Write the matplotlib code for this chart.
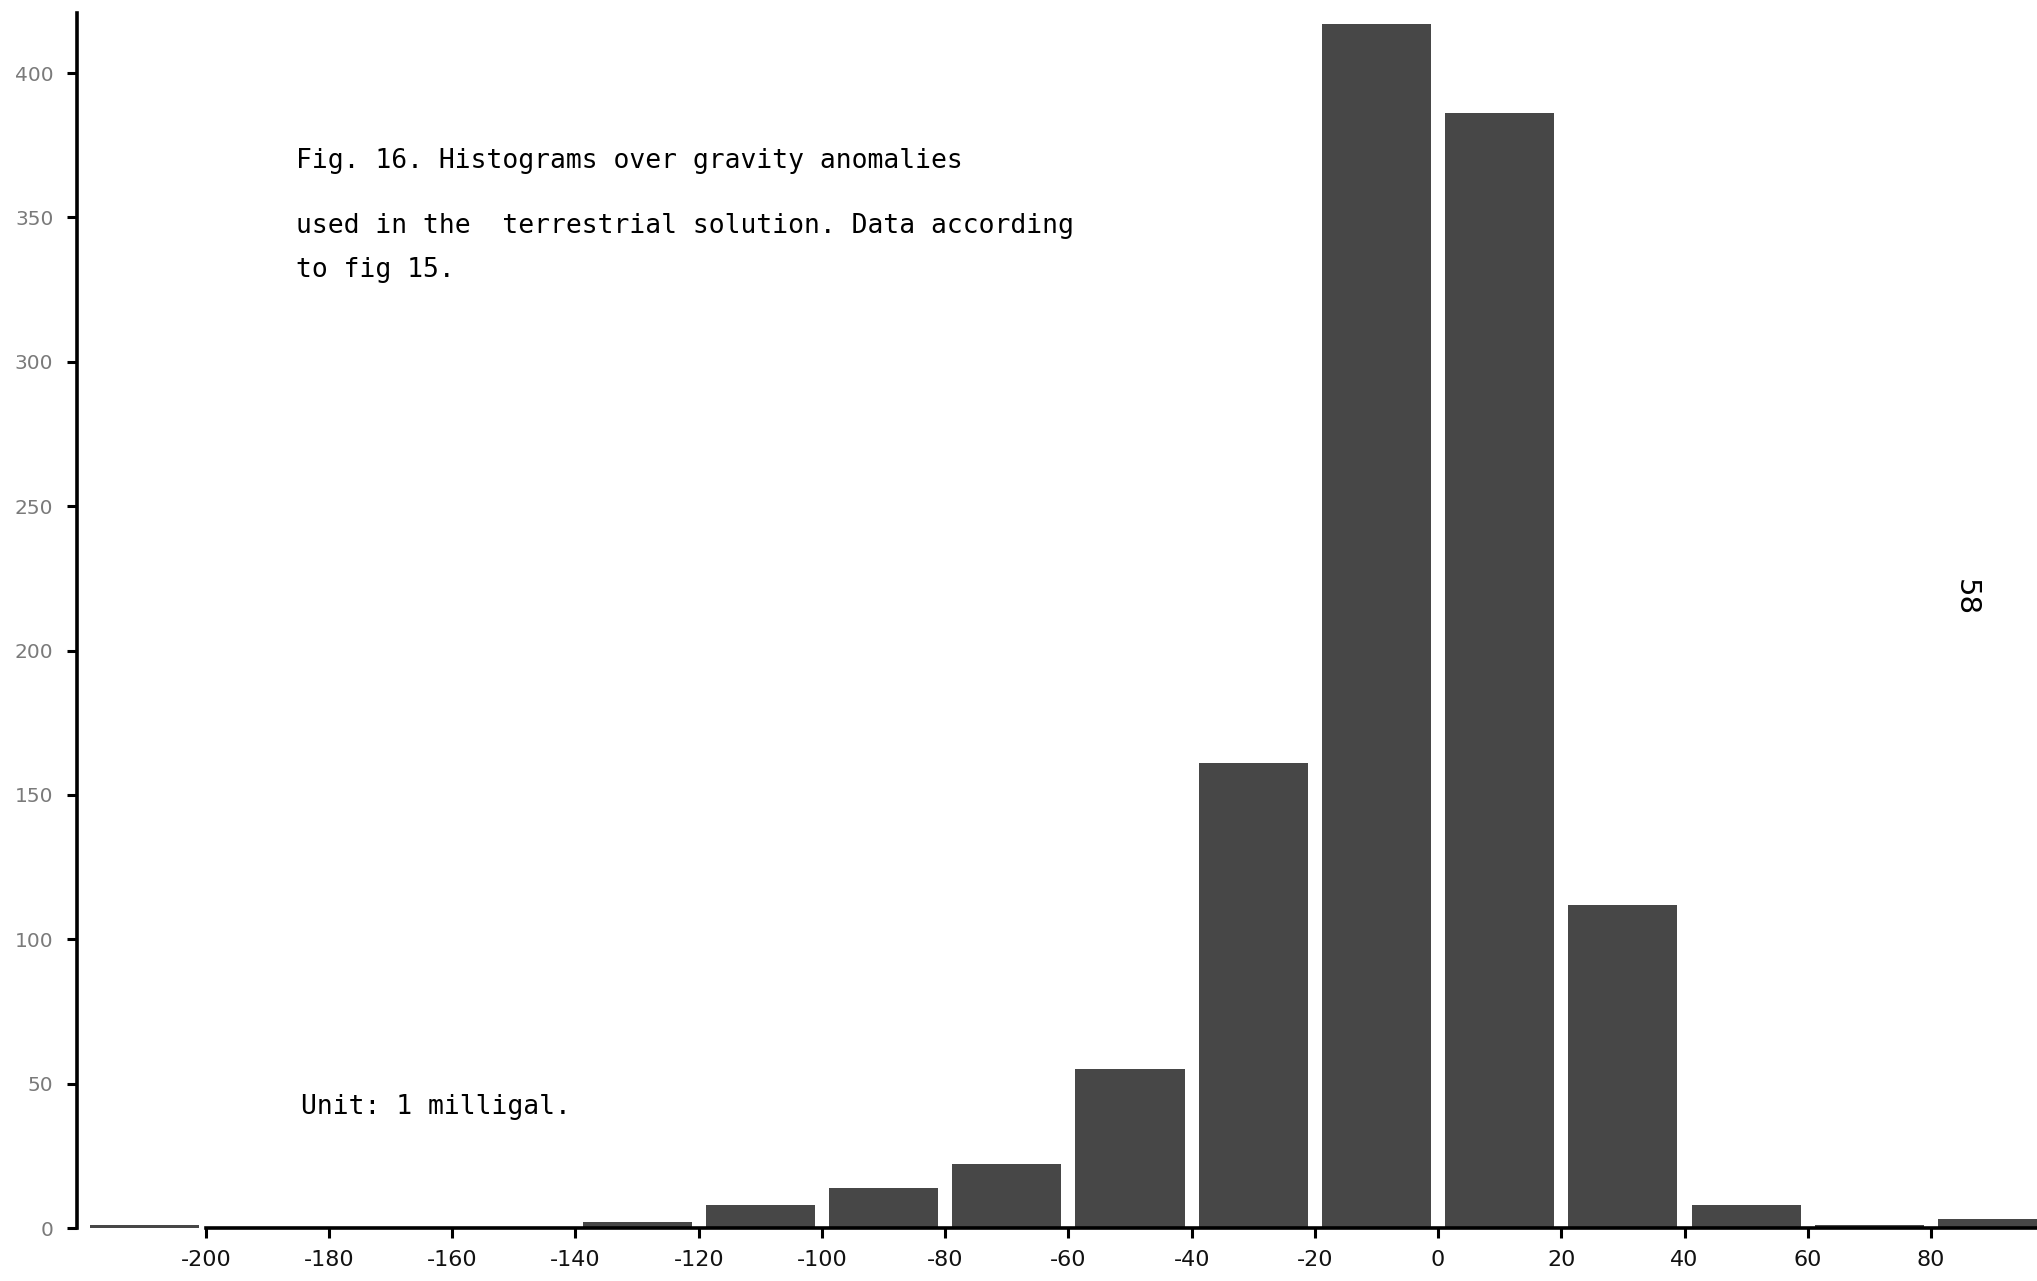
import matplotlib
matplotlib.use("Agg")
import matplotlib.pyplot as plt
import numpy as np

# ---- data ----
bin_left = [-220, -200, -180, -160, -140, -120, -100, -80, -60, -40, -20, 0, 20, 40, 60, 80]
counts   = [1, 0, 0, 0, 2, 8, 14, 22, 55, 161, 417, 386, 112, 8, 1, 3]
bin_width = 20
xtick_vals = [-200, -180, -160, -140, -120, -100, -80, -60, -40, -20, 0, 20, 40, 60, 80]
xtick_labels = ["-200", "-180", "-160", "-140", "-120", "-100", "-80", "-60",
                "-40", "-20", "0", "20", "40", "60", "80"]
ytick_vals = [0, 50, 100, 150, 200, 250, 300, 350, 400]
ytick_labels = ["0", "50", "100", "150", "200", "250", "300", "350", "400"]

caption_lines = ["Fig. 16. Histograms over gravity anomalies",
                 "used in the  terrestrial solution. Data according",
                 "to fig 15."]
unit_text = "Unit: 1 milligal."
page_number = "58"

W, H = 2037, 1281
fig = plt.figure(figsize=(W / 100, H / 100), dpi=100)
fig.patch.set_facecolor("white")

ax = fig.add_axes([77 / W, (H - 1228) / H, (W - 77) / W, 1215 / H])
ax.set_facecolor("none")
ax.set_xlim(-220.9, 97.2)
ax.set_ylim(0, 420.8)

centers = np.array(bin_left) + bin_width / 2
ax.bar(centers, counts, width=bin_width * 0.885, color="#474747",
       edgecolor="none", zorder=2, clip_on=False)

for s in ["top", "right"]:
    ax.spines[s].set_visible(False)
ax.spines["left"].set_linewidth(2.6)
ax.spines["left"].set_color("black")
ax.spines["bottom"].set_linewidth(2.6)
ax.spines["bottom"].set_color("black")
ax.spines["bottom"].set_bounds(-200, 97.2)
ax.spines["bottom"].set_zorder(3)

ax.set_xticks(xtick_vals)
ax.set_xticklabels(xtick_labels, fontsize=16, family="DejaVu Sans", color="#111111")
ax.tick_params(axis="x", direction="out", length=7, width=2.2, pad=9, colors="black",
               labelcolor="#111111")

ax.set_yticks(ytick_vals)
ax.set_yticklabels(ytick_labels, fontsize=14.5, family="DejaVu Sans", color="#7a7a7a")
ax.tick_params(axis="y", direction="out", length=7, width=2.2, pad=10, colors="black",
               labelcolor="#7a7a7a")

mono = "DejaVu Sans Mono"
baselines = [168, 233, 277]
for line, yb in zip(caption_lines, baselines):
    fig.text(296 / W, 1 - yb / H, line, fontsize=19, family=mono,
             ha="left", va="baseline", color="black")
fig.text(301 / W, 1 - 1114 / H, unit_text, fontsize=19, family=mono,
         ha="left", va="baseline", color="black")

fig.text(1966 / W, 1 - 598 / H, page_number, fontsize=21, family="DejaVu Sans",
         rotation=-90, ha="center", va="center", color="black")

fig.savefig("out.png", dpi=100, facecolor="white")
